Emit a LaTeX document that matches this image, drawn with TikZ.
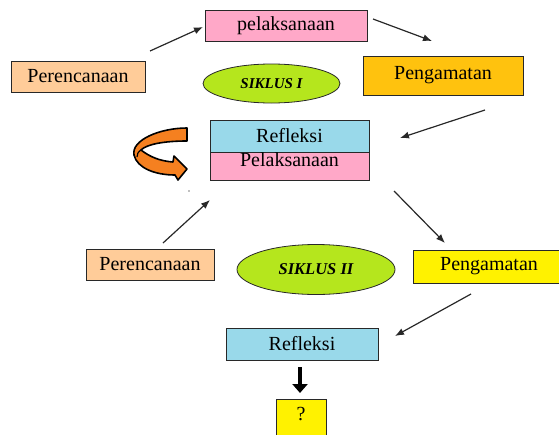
\documentclass[tikz,border=0pt]{standalone}
\usepackage{fontspec}
\setmainfont{Liberation Serif}
\usetikzlibrary{arrows.meta,shapes.geometric}
\definecolor{cpink}{RGB}{255,168,200}
\definecolor{cpeach}{RGB}{255,204,153}
\definecolor{csky}{RGB}{153,217,234}
\definecolor{cgold}{RGB}{255,194,14}
\definecolor{cyel}{RGB}{255,242,0}
\definecolor{clime}{RGB}{181,230,29}
\definecolor{corange}{RGB}{245,128,32}
\definecolor{cline}{RGB}{40,40,40}
\tikzset{
  box/.style={draw=cline, line width=0.9pt, inner sep=0pt, font=\fontsize{20}{22}\selectfont},
  oval/.style={ellipse, draw=cline, line width=0.8pt, fill=clime, inner sep=0pt, font=\fontsize{15}{17}\selectfont\bfseries\itshape},
  conn/.style={draw=cline, line width=1.2pt, -{Latex[length=9pt,width=7pt]}},
}
\begin{document}
\begin{tikzpicture}[x=1pt,y=-1pt]
\useasboundingbox (0,0) rectangle (559,434);
\clip (0,0) rectangle (559,434);
% top cycle
\node[box, fill=cpink, minimum width=162pt, minimum height=31pt] (pel1) at (286,25.5) {pelaksanaan};
\node[box, fill=cpeach, minimum width=134pt, minimum height=31pt] (per1) at (78,76.5) {Perencanaan};
\node[oval, minimum width=137pt, minimum height=39pt] (sik1) at (271.5,83.5) {SIKLUS I};
\node[box, fill=cgold, minimum width=160pt, minimum height=39pt] (pen1) at (443,75.5) {Pengamatan};
\node[box, fill=csky, minimum width=159pt, minimum height=32pt] (ref1) at (289.5,136) {Refleksi};
\node[box, fill=cpink, minimum width=159pt, minimum height=28pt, text height=10pt, text depth=10pt] (pel2) at (289.5,166) {Pelaksanaan};
% bottom cycle
\node[box, fill=cpeach, minimum width=128pt, minimum height=31pt] (per2) at (150,264.5) {Perencanaan};
\node[oval, minimum width=158pt, minimum height=50pt, font=\fontsize{16.5}{18}\selectfont\bfseries\itshape] (sik2) at (316,269.5) {SIKLUS II};
\node[box, fill=cyel, minimum width=152pt, minimum height=33pt] (pen2) at (489,266.5) {Pengamatan};
\node[box, fill=csky, minimum width=152pt, minimum height=32pt] (ref2) at (302,344) {Refleksi};
\node[box, fill=cyel, minimum width=50pt, minimum height=40pt, text height=8pt, text depth=6pt] (q) at (301,419) {?};
% arrow end points
\coordinate (a1s) at (150,51);  \coordinate (a1e) at (203,27);
\coordinate (a2s) at (373,19);  \coordinate (a2e) at (432,41);
\coordinate (a3s) at (485,110); \coordinate (a3e) at (400,138);
\coordinate (a4s) at (394,191); \coordinate (a4e) at (445,243);
\coordinate (a5s) at (163,243); \coordinate (a5e) at (210,200);
\coordinate (a6s) at (471,294); \coordinate (a6e) at (395,336);
\coordinate (a7s) at (300,367); \coordinate (a7e) at (300,393);
\draw[conn] (a1s) -- (a1e);
\draw[conn] (a2s) -- (a2e);
\draw[conn] (a3s) -- (a3e);
\draw[conn] (a4s) -- (a4e);
\draw[conn] (a5s) -- (a5e);
\draw[conn] (a6s) -- (a6e);
\draw[draw=black, line width=3.5pt, -{Triangle[length=9pt,width=15pt]}] (a7s) -- (a7e);
% curved orange arrow
\draw[fill=corange, draw=black, line width=1.6pt, line join=round]
  (187,128) -- (187,141)
  .. controls (165,141) and (147,144) .. (141,150)
  .. controls (150,157) and (160,161) .. (173,162)
  -- (174,156) -- (187,169) -- (178,180) -- (175,175)
  .. controls (155,175) and (137,168) .. (134,155)
  .. controls (131,140) and (160,128) .. (187,128) -- cycle;
\draw[black, line width=1.2pt] (141,150) .. controls (138,152) and (137,154) .. (137,157);
% stray dot
\fill[gray] (189,191) circle (0.8pt);
\end{tikzpicture}
\end{document}
